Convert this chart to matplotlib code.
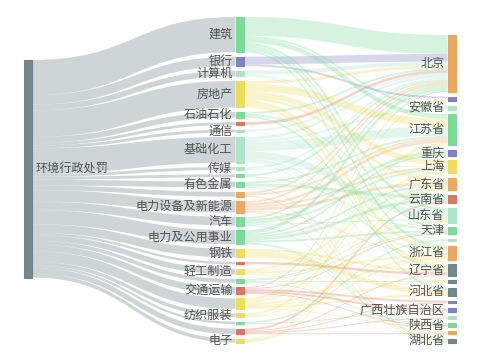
import matplotlib
matplotlib.use('Agg')
import matplotlib.pyplot as plt
from matplotlib.path import Path
from matplotlib.patches import PathPatch, Rectangle

plt.rcParams['font.family'] = ['Noto Sans CJK SC', 'DejaVu Sans']

GREEN, PURPLE, TEAL = '#76d996', '#7b7dc0', '#a9e4c9'
YELLOW, RED, ORANGE, SLATE = '#eddc55', '#d9705e', '#e9a55b', '#6f8187'

SOURCE = '环境行政处罚'

# middle column: industries (name, colour, label shown)
INDUSTRIES = ['建筑', '银行', '计算机', '房地产', '石油石化', '机械设备', '通信', '基础化工',
              '传媒', '食品饮料', '有色金属', '建筑材料', '电力设备及新能源', '汽车',
              '电力及公用事业', '钢铁', '农林牧渔', '轻工制造', '医药', '交通运输',
              '家电', '纺织服装', '综合', '商贸零售', '电子']
IND_COLORS = [GREEN, PURPLE, TEAL, YELLOW, GREEN, RED, TEAL, TEAL, TEAL, GREEN, GREEN,
              ORANGE, ORANGE, GREEN, GREEN, YELLOW, RED, YELLOW, GREEN, RED, YELLOW,
              YELLOW, GREEN, RED, YELLOW]
IND_SHOW = [1, 1, 1, 1, 1, 0, 1, 1, 1, 0, 1, 0, 1, 1, 1, 1, 0, 1, 0, 1, 0, 1, 0, 0, 1]

# right column: provinces
PROVINCES = ['北京', '湖南省', '安徽省', '江苏省', '重庆', '上海', '广东省', '云南省', '山东省',
             '天津', '福建省', '浙江省', '辽宁省', '山西省', '河北省', '四川省', '广西壮族自治区',
             '江西省', '陕西省', '河南省', '湖北省']
PROV_COLORS = [ORANGE, PURPLE, TEAL, GREEN, PURPLE, YELLOW, ORANGE, RED, TEAL, GREEN, TEAL,
               ORANGE, SLATE, SLATE, SLATE, PURPLE, PURPLE, TEAL, GREEN, ORANGE, SLATE]
PROV_SHOW = [1, 0, 1, 1, 1, 1, 1, 1, 1, 1, 0, 1, 1, 0, 1, 0, 1, 0, 1, 0, 1]

# industry -> province flows
LINKS = [
    ('建筑', '北京', 20), ('建筑', '安徽省', 2), ('建筑', '江苏省', 5), ('建筑', '山东省', 3),
    ('建筑', '天津', 2), ('建筑', '浙江省', 3), ('建筑', '河北省', 2),
    ('银行', '北京', 8), ('银行', '湖南省', 2),
    ('计算机', '北京', 4), ('计算机', '重庆', 1), ('计算机', '广东省', 1),
    ('房地产', '北京', 3), ('房地产', '江苏省', 8), ('房地产', '上海', 6), ('房地产', '广东省', 3),
    ('房地产', '浙江省', 4), ('房地产', '辽宁省', 3), ('房地产', '广西壮族自治区', 1),
    ('石油石化', '北京', 2), ('石油石化', '云南省', 1), ('石油石化', '山东省', 1),
    ('石油石化', '辽宁省', 2),
    ('机械设备', '北京', 3),
    ('通信', '北京', 2), ('通信', '福建省', 1),
    ('基础化工', '北京', 3), ('基础化工', '安徽省', 2), ('基础化工', '江苏省', 10),
    ('基础化工', '山东省', 8), ('基础化工', '浙江省', 2), ('基础化工', '辽宁省', 1),
    ('基础化工', '江西省', 1),
    ('传媒', '北京', 2), ('传媒', '上海', 1),
    ('食品饮料', '北京', 2), ('食品饮料', '天津', 1),
    ('有色金属', '江苏省', 2), ('有色金属', '云南省', 3), ('有色金属', '湖北省', 1),
    ('建筑材料', '北京', 2), ('建筑材料', '江苏省', 2), ('建筑材料', '湖北省', 1),
    ('电力设备及新能源', '北京', 2), ('电力设备及新能源', '江苏省', 3),
    ('电力设备及新能源', '上海', 2), ('电力设备及新能源', '广东省', 3),
    ('电力设备及新能源', '浙江省', 1), ('电力设备及新能源', '湖北省', 1),
    ('汽车', '北京', 2), ('汽车', '重庆', 3), ('汽车', '上海', 2), ('汽车', '山东省', 1),
    ('汽车', '湖北省', 1),
    ('电力及公用事业', '北京', 4), ('电力及公用事业', '重庆', 2), ('电力及公用事业', '广东省', 2),
    ('电力及公用事业', '云南省', 3), ('电力及公用事业', '天津', 2),
    ('电力及公用事业', '陕西省', 1), ('电力及公用事业', '河南省', 1),
    ('钢铁', '辽宁省', 2.5), ('钢铁', '山西省', 1), ('钢铁', '河北省', 5), ('钢铁', '江西省', 0.5),
    ('农林牧渔', '辽宁省', 2.5),
    ('轻工制造', '广东省', 2), ('轻工制造', '山东省', 1), ('轻工制造', '浙江省', 2),
    ('轻工制造', '河南省', 1),
    ('医药', '山东省', 1), ('医药', '天津', 1), ('医药', '山西省', 1), ('医药', '陕西省', 1),
    ('交通运输', '北京', 1), ('交通运输', '天津', 1), ('交通运输', '四川省', 2),
    ('交通运输', '广西壮族自治区', 2), ('交通运输', '陕西省', 1),
    ('家电', '湖南省', 2), ('家电', '江苏省', 1), ('家电', '上海', 2), ('家电', '浙江省', 2),
    ('家电', '山西省', 1), ('家电', '河北省', 2), ('家电', '陕西省', 1),
    ('纺织服装', '江苏省', 2), ('纺织服装', '山东省', 1), ('纺织服装', '浙江省', 1),
    ('综合', '福建省', 1.5), ('综合', '广西壮族自治区', 1),
    ('商贸零售', '云南省', 2), ('商贸零售', '辽宁省', 1), ('商贸零售', '四川省', 1),
    ('商贸零售', '江西省', 1), ('商贸零售', '河南省', 1),
    ('电子', '湖南省', 1), ('电子', '上海', 1), ('电子', '广东省', 2),
]

# ---- layout (pixel space of a 480x360 canvas) ----
K = 0.95          # px per unit
GAP = 4.5
NODE_W = 8.5
X_LEFT, X_MID, X_RIGHT = 23.5, 235.5, 447.5
MID_TOP = 17

ind_val = {n: sum(v for s, t, v in LINKS if s == n) for n in INDUSTRIES}
prov_val = {n: sum(v for s, t, v in LINKS if t == n) for n in PROVINCES}
total = sum(ind_val.values())


def stack(names, vals, top):
    pos, y = {}, top
    for n in names:
        h = vals[n] * K
        pos[n] = [y, y + h]
        y += h + GAP
    return pos, y - GAP


mid_pos, mid_bottom = stack(INDUSTRIES, ind_val, MID_TOP)
right_h = sum(prov_val.values()) * K + GAP * (len(PROVINCES) - 1)
right_pos, _ = stack(PROVINCES, prov_val, mid_bottom - right_h)
left_h = total * K
left_top = (MID_TOP + mid_bottom) / 2 - left_h / 2 - 11
left_pos = {SOURCE: [left_top, left_top + left_h]}

fig = plt.figure(figsize=(4.8, 3.6), dpi=100)
ax = fig.add_axes([0, 0, 1, 1])
ax.set_xlim(0, 480)
ax.set_ylim(360, 0)
ax.axis('off')


def band(x0, y0a, y0b, x1, y1a, y1b, color, alpha):
    xm = (x0 + x1) / 2
    verts = [(x0, y0a), (xm, y0a), (xm, y1a), (x1, y1a),
             (x1, y1b), (xm, y1b), (xm, y0b), (x0, y0b), (x0, y0a)]
    codes = [Path.MOVETO, Path.CURVE4, Path.CURVE4, Path.CURVE4,
             Path.LINETO, Path.CURVE4, Path.CURVE4, Path.CURVE4, Path.CLOSEPOLY]
    ax.add_patch(PathPatch(Path(verts, codes), facecolor=color, edgecolor='none',
                           alpha=alpha, lw=0))


# source -> industries (grey)
y = left_pos[SOURCE][0]
for n in INDUSTRIES:
    h = ind_val[n] * K
    band(X_LEFT + NODE_W, y, y + h, X_MID, mid_pos[n][0], mid_pos[n][1], SLATE, 0.33)
    y += h

# industries -> provinces, ordered by the other end's position
out_off = {n: mid_pos[n][0] for n in INDUSTRIES}
in_off = {n: right_pos[n][0] for n in PROVINCES}
src_y = {}
for s, t, v in sorted(LINKS, key=lambda l: (INDUSTRIES.index(l[0]), PROVINCES.index(l[1]))):
    src_y[(s, t)] = out_off[s]
    out_off[s] += v * K
ind_color = dict(zip(INDUSTRIES, IND_COLORS))
for s, t, v in sorted(LINKS, key=lambda l: (PROVINCES.index(l[1]), INDUSTRIES.index(l[0]))):
    h = v * K
    y0 = src_y[(s, t)]
    y1 = in_off[t]
    in_off[t] += h
    band(X_MID + NODE_W, y0, y0 + h, X_RIGHT, y1, y1 + h, ind_color[s], 0.3)


def node(x, y0, y1, color):
    ax.add_patch(Rectangle((x, y0), NODE_W, y1 - y0, facecolor=color, edgecolor=color,
                           lw=0.8, alpha=0.95))


TXT = dict(fontsize=8.7, color='#505050', va='center')
node(X_LEFT, *left_pos[SOURCE], SLATE)
ax.text(X_LEFT + NODE_W + 4, sum(left_pos[SOURCE]) / 2, SOURCE, ha='left', **TXT)
for n, c, show in zip(INDUSTRIES, IND_COLORS, IND_SHOW):
    node(X_MID, *mid_pos[n], c)
    if show:
        ax.text(X_MID - 3, sum(mid_pos[n]) / 2, n, ha='right', **TXT)
for n, c, show in zip(PROVINCES, PROV_COLORS, PROV_SHOW):
    node(X_RIGHT, *right_pos[n], c)
    if show:
        ax.text(X_RIGHT - 3, sum(right_pos[n]) / 2, n, ha='right', **TXT)

fig.savefig('out.png', dpi=100)
